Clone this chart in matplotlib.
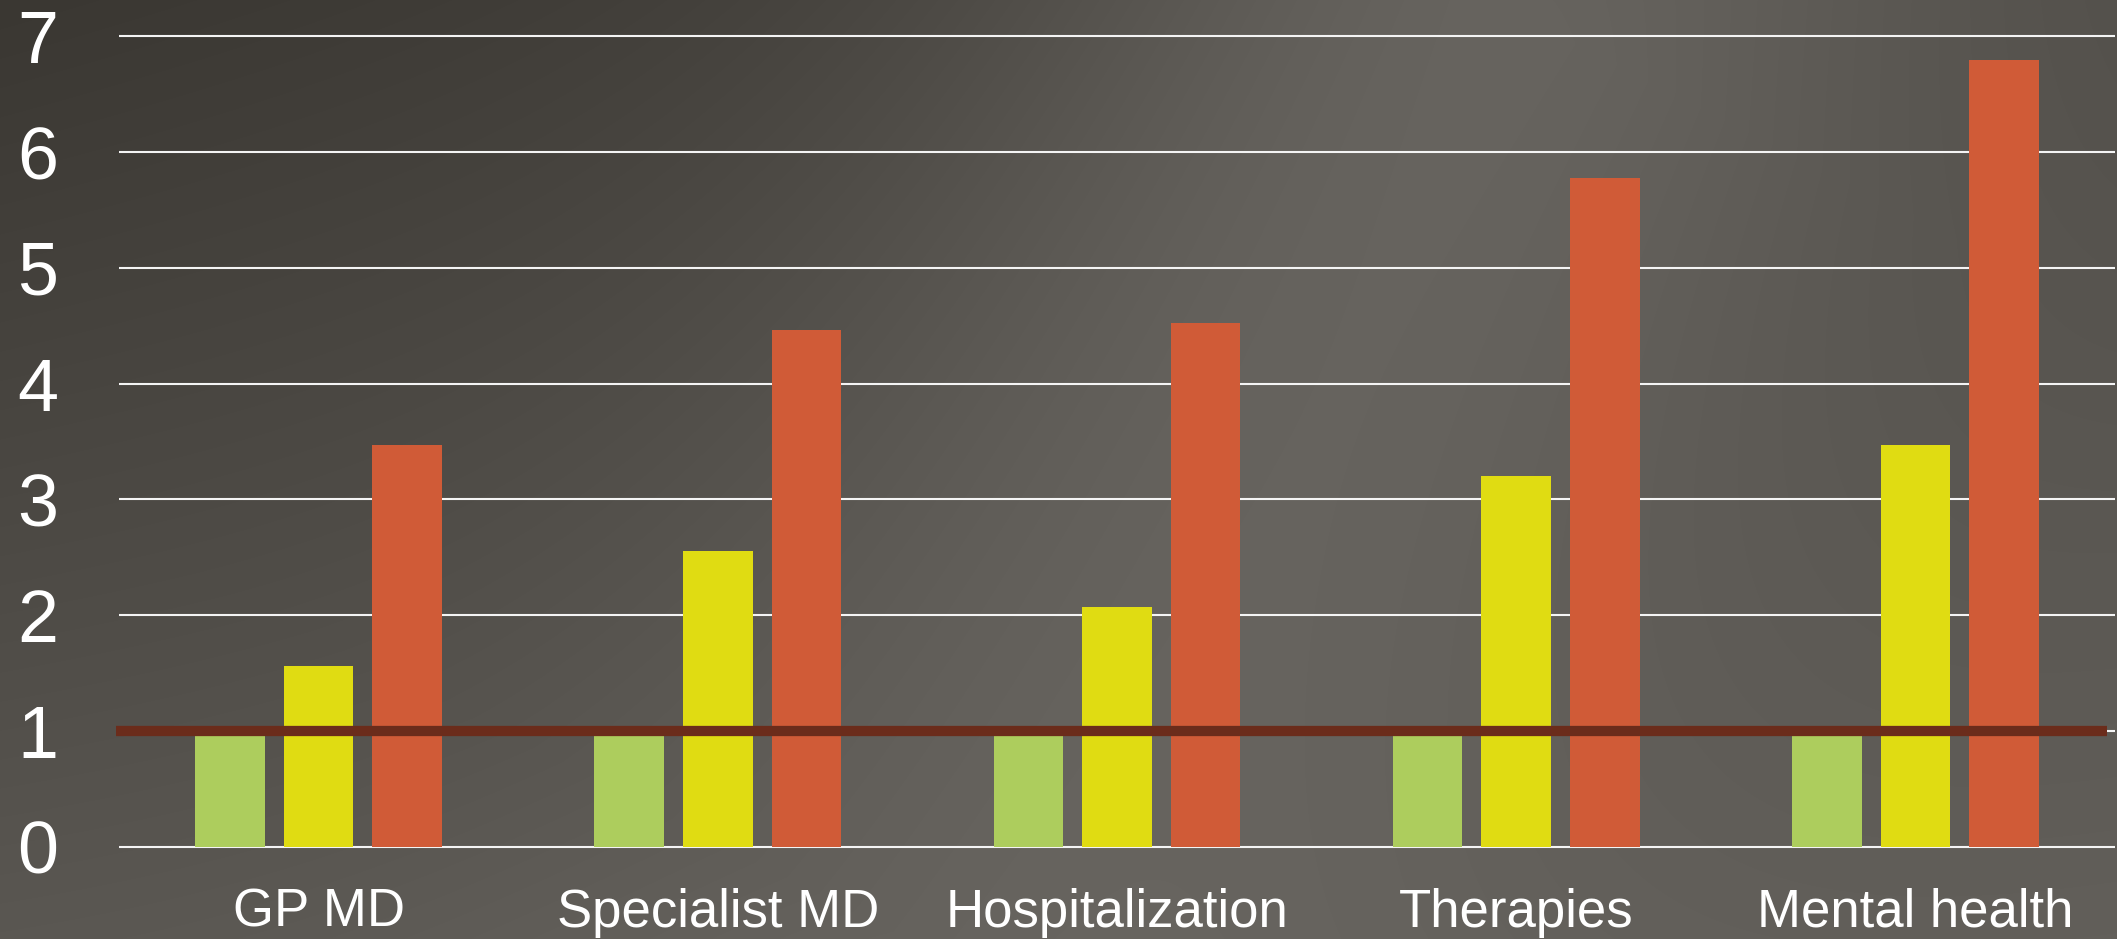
import numpy as np
import matplotlib
matplotlib.use("Agg")
import matplotlib.pyplot as plt

categories = ["GP MD", "Specialist MD", "Hospitalization", "Therapies", "Mental health"]
series_green = [1.0, 1.0, 1.0, 1.0, 1.0]
series_yellow = [1.56, 2.55, 2.07, 3.20, 3.47]
series_red = [3.47, 4.46, 4.52, 5.78, 6.80]
y_ticks = [0, 1, 2, 3, 4, 5, 6, 7]
reference_value = 1

plt.rcParams['font.family'] = ['Liberation Sans', 'DejaVu Sans']

W, H = 2117, 939
DPI = 100
fig = plt.figure(figsize=(W / DPI, H / DPI), dpi=DPI)

# background gradient
yy, xx = np.mgrid[0:H, 0:W].astype(float)
fx = xx / W
fy = yy / H
top = 58 + (79 - 58) * fx
bot = 90 + (98 - 90) * fx
base = top + (bot - top) * fy
# diagonal highlight band from (1450,0) to (950,939)
x0, y0, x1, y1 = 1450.0, -20.0, 950.0, 960.0
dxl, dyl = x1 - x0, y1 - y0
L = np.hypot(dxl, dyl)
d = np.abs((xx - x0) * dyl - (yy - y0) * dxl) / L
t = np.clip(((xx - x0) * dxl + (yy - y0) * dyl) / L**2, 0, 1)
amp = 30 * (1 - t) + 8 * t
v = base + amp * np.exp(-(d / 460.0) ** 2)
img = np.dstack([v, v - 3, v - 8]) / 255.0
img = np.clip(img, 0, 1)
bg = fig.add_axes([0, 0, 1, 1], zorder=-10)
bg.imshow(img, aspect='auto', extent=[0, 1, 0, 1], interpolation='bilinear')
bg.axis('off')

ax = fig.add_axes([119 / W, 1 - 850 / H, (2115 - 119) / W, (850 - 33) / H])
ax.set_facecolor('none')
ax.set_xlim(-0.5, len(categories) - 0.5)
ax.set_ylim(-0.03, 7.03)

x = np.arange(len(categories))
bw = 0.174
off = 0.222
ax.bar(x - off, series_green, bw, color='#adcd5d', zorder=3)
ax.bar(x, series_yellow, bw, color='#e0dc12', zorder=3)
ax.bar(x + off, series_red, bw, color='#d05b37', zorder=3)

for yv in y_ticks:
    ax.axhline(yv, color='#f4f4f4', lw=1.5, zorder=1)

ax.axhline(reference_value, xmin=-0.0015, xmax=0.9962, color='#6b2c1b', lw=7.4,
           solid_capstyle='butt', zorder=4, clip_on=False)

for s in ax.spines.values():
    s.set_visible(False)

ax.set_yticks(y_ticks)
ax.set_yticklabels([str(t) for t in y_ticks])
ax.set_xticks(x)
ax.set_xticklabels(categories)
ax.tick_params(axis='y', length=0, pad=44, labelsize=53, labelcolor='white')
ax.tick_params(axis='x', length=0, pad=27, labelsize=38, labelcolor='white')

fig.savefig('out.png', dpi=DPI)
